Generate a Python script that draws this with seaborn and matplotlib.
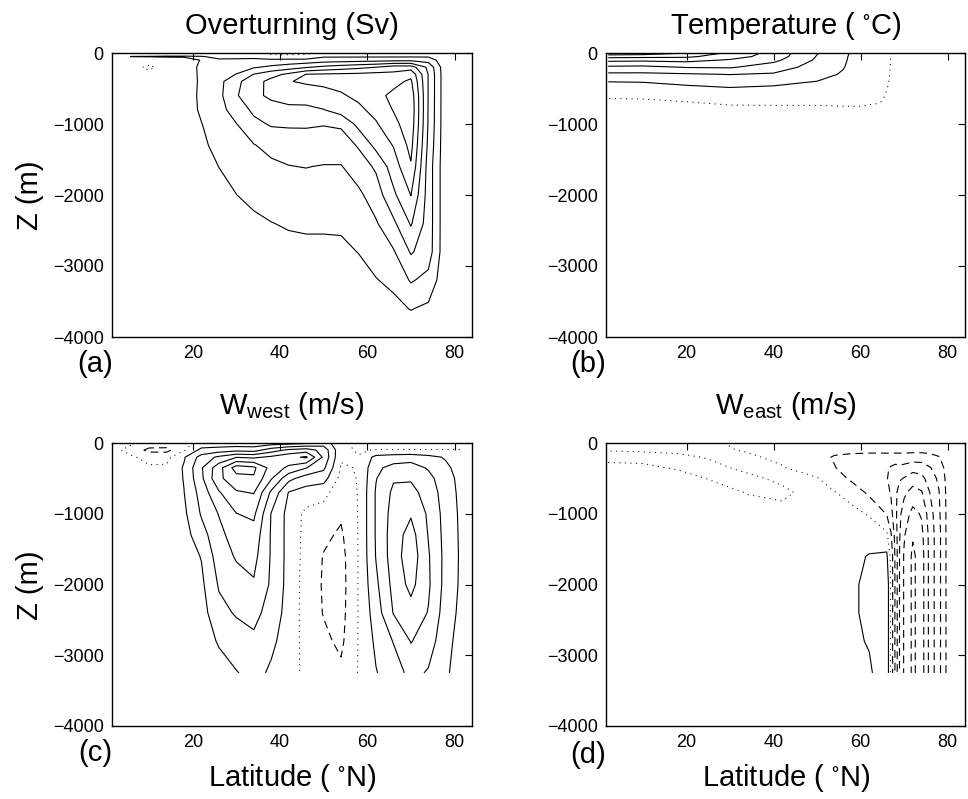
import numpy as np
import matplotlib
matplotlib.use("Agg")
import matplotlib.pyplot as plt
import seaborn as sns

# ---- (a) overturning streamfunction, one profile per latitude ----
lat_a = [2, 6, 10, 14, 18, 22, 26, 30, 34, 38, 42, 46, 50, 54, 58, 62, 66, 70, 74, 78, 82]
depth_a = [0, -50, -100, -200, -300, -400, -600, -800, -1000, -1300, -1600,
           -2000, -2400, -2800, -3200, -3600, -4000]
psi_a = [
    [0.5, 1.2, 0.6, 0.5, 0.5, 0.5, 0.5, 0.5, 0.5, 0.5, 0.5, 0.5, 0.5, 0.5, 0.5, 0.5, 0.5],
    [0.5, 2.05, 0.7, 0.5, 0.5, 0.5, 0.5, 0.5, 0.5, 0.5, 0.5, 0.5, 0.5, 0.5, 0.5, 0.5, 0.5],
    [0.5, 2.1, 0.8, -0.3, 0.4, 0.5, 0.5, 0.5, 0.5, 0.5, 0.5, 0.5, 0.5, 0.5, 0.5, 0.5, 0.5],
    [0.5, 2.2, 1.0, 0.6, 0.6, 0.55, 0.5, 0.5, 0.5, 0.5, 0.5, 0.5, 0.5, 0.5, 0.5, 0.5, 0.5],
    [0.5, 2.2, 1.2, 1.2, 1.1, 1.0, 0.95, 0.95, 0.85, 0.8, 0.7, 0.6, 0.5, 0.5, 0.5, 0.5, 0.5],
    [0.5, 2.1, 2.1, 2.3, 2.3, 2.3, 2.4, 2.3, 1.95, 1.6, 1.2, 0.9, 0.7, 0.6, 0.5, 0.5, 0.5],
    [0.5, 1.6, 2.2, 2.8, 3.1, 3.4, 3.5, 3.3, 3.0, 2.6, 2.02, 1.4, 1.0, 0.8, 0.7, 0.6, 0.5],
    [0.5, 1.5, 2.3, 3.2, 4.05, 5.5, 5.8, 4.9, 3.95, 3.2, 2.6, 1.98, 1.3, 0.9, 0.7, 0.6, 0.5],
    [0.5, 1.5, 2.4, 3.8, 6.05, 7.2, 7.5, 6.4, 5.5, 3.9, 3.3, 2.5, 1.6, 1.1, 0.8, 0.6, 0.5],
    [-0.3, 0.3, 2.5, 4.4, 7.3, 8.6, 8.4, 7.2, 6.2, 4.6, 3.6, 2.9, 1.95, 1.3, 0.9, 0.6, 0.5],
    [-0.3, 0.3, 2.6, 5.0, 8.4, 9.9, 8.7, 7.6, 6.3, 4.7, 3.95, 3.2, 2.2, 1.4, 0.9, 0.6, 0.5],
    [-0.3, 0.4, 2.6, 5.8, 10.05, 10.3, 8.8, 7.6, 6.3, 4.8, 4.05, 3.1, 2.3, 1.5, 1.0, 0.7, 0.5],
    [0.5, 1.8, 3.0, 6.5, 10.2, 10.5, 9.2, 7.95, 6.1, 5.0, 3.9, 3.2, 2.3, 1.5, 1.0, 0.7, 0.5],
    [0.5, 1.8, 3.1, 7.0, 10.3, 10.6, 9.8, 8.9, 6.3, 5.0, 3.9, 3.2, 2.3, 1.6, 1.0, 0.7, 0.5],
    [0.5, 1.8, 3.2, 7.5, 10.4, 10.8, 10.4, 9.6, 8.6, 6.2, 5.0, 3.6, 2.8, 2.05, 1.3, 0.8, 0.5],
    [0.5, 1.8, 3.3, 8.0, 10.6, 11.2, 11.5, 10.6, 9.8, 8.6, 6.3, 5.0, 3.8, 2.9, 1.9, 1.0, 0.5],
    [0.5, 1.8, 3.4, 9.0, 10.5, 11.5, 12.4, 12.1, 11.4, 10.1, 9.0, 7.6, 5.6, 3.8, 2.5, 1.4, 0.5],
    [0.5, 1.8, 3.5, 9.0, 11.5, 12.3, 13.2, 13.4, 13.2, 12.6, 11.8, 10.05, 8.2, 6.2, 4.2, 2.1, 0.5],
    [0.5, 1.8, 3.2, 5.5, 5.9, 5.9, 5.9, 5.85, 5.8, 5.5, 5.1, 5.1, 5.1, 5.0, 3.4, 1.6, 0.5],
    [0.5] * 17,
    [0.5] * 17,
]

# ---- (b) temperature ----
lat_b = [2, 10, 20, 30, 40, 50, 56, 60, 64, 68, 76, 84]
depth_b = [0, -50, -100, -200, -300, -400, -500, -600, -700, -800, -1000, -4000]
temp_b = [
    [13.5, 10.7, 8.5, 5.6, 3.6, 2.05, 1.2, 0.35, -0.5, -0.5, -0.5, -0.5],
    [13.2, 10.6, 8.4, 5.5, 3.6, 2.1, 1.3, 0.45, -0.5, -0.5, -0.5, -0.5],
    [12.05, 10.4, 8.6, 6.1, 3.8, 2.6, 1.5, 0.7, -0.1, -0.5, -0.5, -0.5],
    [9.6, 8.9, 7.8, 6.2, 4.05, 2.9, 1.85, 1.0, 0.25, -0.5, -0.5, -0.5],
    [7.3, 7.1, 6.5, 5.0, 3.8, 2.5, 1.7, 1.0, 0.3, -0.5, -0.5, -0.5],
    [4.1, 3.9, 3.7, 3.2, 2.7, 1.98, 1.5, 0.9, 0.3, -0.5, -0.5, -0.5],
    [2.4, 2.3, 2.25, 2.1, 1.8, 1.5, 1.2, 0.8, 0.3, -0.3, -0.5, -0.5],
    [1.26, 1.2, 1.15, 1.0, 0.9, 0.8, 0.7, 0.5, 0.2, -0.2, -0.5, -0.5],
    [0.8, 0.78, 0.75, 0.7, 0.6, 0.5, 0.35, 0.2, 0.05, -0.4, -0.5, -0.5],
    [-0.3, -0.3, -0.3, -0.3, -0.3, -0.3, -0.3, -0.3, -0.3, -0.3, -0.5, -0.5],
    [-0.5] * 12,
    [-0.5] * 12,
]

# ---- (c) vertical velocity, western boundary (data stops at -3250 m) ----
lat_c = [2, 6, 10, 14, 18, 22, 26, 30, 34, 38, 42, 46, 50, 54, 58, 62, 66, 70, 74, 78, 82]
depth_c = [0, -100, -200, -350, -500, -700, -1000, -1300, -1600, -2000, -2400, -2800, -3250]
w_west = [
    [0.2] * 13,
    [0.1, -0.3, 0.1, 0.2, 0.2, 0.2, 0.2, 0.2, 0.2, 0.2, 0.2, 0.2, 0.2],
    [-0.3, -1.3, -0.25, 0.1, 0.2, 0.2, 0.2, 0.2, 0.2, 0.2, 0.2, 0.2, 0.2],
    [-0.4, -1.3, -0.3, 0.15, 0.3, 0.3, 0.3, 0.25, 0.25, 0.25, 0.25, 0.25, 0.25],
    [-0.3, -0.1, 0.9, 1.1, 1.05, 0.98, 0.8, 0.6, 0.5, 0.4, 0.35, 0.3, 0.3],
    [0.3, 1.3, 2.4, 2.9, 2.8, 2.4, 2.1, 1.6, 1.05, 0.8, 0.6, 0.5, 0.4],
    [0.3, 1.5, 3.2, 4.6, 4.8, 3.9, 3.05, 2.7, 2.5, 2.1, 1.7, 1.1, 0.6],
    [0.3, 1.7, 3.95, 6.5, 5.6, 4.9, 3.98, 3.5, 3.1, 2.6, 2.1, 1.5, 0.95],
    [0.3, 1.6, 3.8, 6.2, 5.9, 5.05, 4.2, 3.6, 3.3, 2.9, 2.3, 1.8, 1.3],
    [0.5, 2.5, 4.2, 4.6, 4.1, 2.8, 1.95, 1.9, 1.9, 1.85, 1.6, 1.2, 0.85],
    [0.6, 3.2, 4.7, 3.8, 2.3, 0.95, 0.67, 0.67, 0.67, 0.65, 0.6, 0.55, 0.5],
    [0.8, 3.5, 5.15, 3.05, 1.5, 0.6, -0.25, -0.3, -0.35, -0.4, -0.4, -0.35, -0.3],
    [1.5, 2.6, 2.8, 2.2, 1.4, 0.3, -0.4, -0.8, -1.05, -1.1, -1.05, -0.8, -0.5],
    [0.3, 0.25, 0.1, -0.1, -0.3, -0.6, -0.85, -1.15, -1.35, -1.4, -1.35, -1.2, -0.8],
    [-0.4, -0.1, 0.05, 0.05, 0.05, 0.05, 0.05, 0.05, 0.05, 0.05, 0.05, 0.05, 0.05],
    [-0.5, 0.05, 1.3, 1.8, 1.95, 2.1, 2.1, 2.1, 2.05, 1.8, 1.5, 1.2, 0.95],
    [-0.5, 0.05, 1.5, 2.3, 2.9, 3.2, 3.4, 3.5, 3.5, 3.3, 3.05, 2.05, 1.5],
    [-0.5, 0.05, 1.6, 2.4, 2.9, 3.3, 3.9, 4.4, 4.6, 4.3, 3.6, 3.05, 2.3],
    [-0.5, 0.05, 1.3, 1.9, 2.3, 2.6, 2.85, 2.95, 3.1, 3.15, 2.95, 2.5, 1.9],
    [-0.5, 0.05, 0.9, 1.2, 1.4, 1.5, 1.6, 1.65, 1.68, 1.65, 1.5, 1.3, 1.13],
    [-0.5, 0.05, 0.4, 0.5, 0.6, 0.65, 0.7, 0.72, 0.74, 0.72, 0.65, 0.55, 0.5],
]

# ---- (d) vertical velocity, eastern boundary ----
lat_d = [2, 10, 18, 26, 34, 42, 50, 54, 58, 62, 66, 67, 68, 69, 70, 72, 74, 76, 78, 80, 82]
w_east = [
    [0.3, 0.02, -0.15, 0.15, 0.2, 0.2, 0.2, 0.2, 0.2, 0.2, 0.2, 0.2, 0.2],
    [0.3, 0.05, -0.15, 0.1, 0.2, 0.2, 0.2, 0.2, 0.2, 0.2, 0.2, 0.2, 0.2],
    [0.25, 0.1, -0.1, -0.05, 0.2, 0.2, 0.2, 0.2, 0.2, 0.2, 0.2, 0.2, 0.2],
    [0.1, 0.1, 0.05, -0.1, -0.05, 0.2, 0.2, 0.2, 0.2, 0.2, 0.2, 0.2, 0.2],
    [-0.2, -0.05, 0.1, 0.1, -0.1, -0.02, 0.2, 0.2, 0.2, 0.2, 0.2, 0.2, 0.2],
    [-0.4, -0.3, -0.15, 0.05, 0.1, -0.1, 0.15, 0.2, 0.2, 0.2, 0.2, 0.2, 0.2],
    [-0.6, -0.7, -0.6, -0.4, 0.05, 0.2, 0.2, 0.25, 0.3, 0.3, 0.3, 0.3, 0.3],
    [-0.6, -0.7, -1.1, -0.95, -0.5, 0.05, 0.2, 0.3, 0.4, 0.4, 0.4, 0.4, 0.4],
    [-0.6, -0.7, -1.3, -1.5, -1.2, -0.4, 0.3, 0.6, 0.8, 0.8, 0.8, 0.75, 0.7],
    [-0.6, -0.7, -1.4, -1.9, -1.8, -1.2, -0.1, 0.6, 1.05, 1.3, 1.3, 1.1, 0.8],
    [-0.6, -0.7, -1.4, -1.9, -1.95, -1.7, -1.05, 0.2, 1.2, 1.9, 1.9, 1.9, 1.9],
    [-0.6, -0.7, -1.4, -2.1, -2.2, -2.1, -1.7, -0.9, -0.3, -0.3, -0.3, -0.3, -0.3],
    [-0.6, -0.7, -1.4, -2.3, -2.6, -2.8, -2.7, -2.4, -2.2, -2.2, -2.2, -2.2, -2.2],
    [-0.6, -0.7, -1.4, -2.2, -2.9, -3.4, -3.8, -3.95, -4.1, -4.1, -4.1, -4.1, -4.1],
    [-0.6, -0.7, -1.4, -2.3, -3.05, -3.8, -4.5, -4.9, -5.1, -5.1, -5.1, -5.1, -5.1],
    [-0.6, -0.7, -1.5, -2.6, -3.5, -4.4, -5.3, -5.9, -6.2, -6.2, -6.2, -6.2, -6.2],
    [-0.6, -0.7, -1.5, -2.5, -3.3, -4.1, -4.9, -5.3, -5.5, -5.5, -5.5, -5.5, -5.5],
    [-0.5, -0.7, -1.3, -2.05, -2.5, -2.95, -3.4, -3.6, -3.6, -3.6, -3.6, -3.6, -3.6],
    [-0.4, -0.6, -1.05, -1.5, -1.8, -2.05, -2.2, -2.3, -2.3, -2.3, -2.3, -2.3, -2.3],
    [-0.3, -0.4, -0.5, -0.6, -0.65, -0.7, -0.7, -0.7, -0.7, -0.7, -0.7, -0.7, -0.7],
    [-0.1] * 13,
]

DASHED = (0, (5.6, 3.6))
DOTTED = (0, (0.8, 3.2))
W = 968
H = 799


def draw_panel(ax, lat, depth, profiles, neg_levels, pos_levels):
    field = np.array(profiles).T
    if neg_levels:
        ax.contour(lat, depth, field, levels=neg_levels, colors='k',
                   linewidths=0.8, linestyles=[DASHED])
    ax.contour(lat, depth, field, levels=[0], colors='k',
               linewidths=0.7, linestyles=[DOTTED])
    ax.contour(lat, depth, field, levels=pos_levels, colors='k',
               linewidths=0.8, linestyles='solid')
    ax.set_xlim(1.5, 84)
    ax.set_ylim(-4000, 0)
    ax.set_xticks([20, 40, 60, 80])
    ax.set_yticks([-4000, -3000, -2000, -1000, 0])
    ax.tick_params(direction='in', top=True, right=True, length=5,
                   width=0.8, labelsize=13, pad=6, colors='k')
    for s in ax.spines.values():
        s.set_linewidth(1.0)
        s.set_color('k')


sns.set_style("white")
plt.rcParams['font.family'] = ['Liberation Sans', 'DejaVu Sans']
plt.rcParams['mathtext.fontset'] = 'custom'
plt.rcParams['mathtext.rm'] = 'Liberation Sans'
plt.rcParams['lines.scale_dashes'] = False
plt.rcParams['text.color'] = 'k'
plt.rcParams['axes.labelcolor'] = 'k'
plt.rcParams['xtick.color'] = 'k'
plt.rcParams['ytick.color'] = 'k'

fig = plt.figure(figsize=(W / 100, H / 100), dpi=100)


def add_axes_px(x0, y0, x1, y1):
    return fig.add_axes([x0 / W, 1 - y1 / H, (x1 - x0) / W, (y1 - y0) / H])


ax_a = add_axes_px(112, 53, 472, 337)
ax_b = add_axes_px(606, 53, 965, 337)
ax_c = add_axes_px(112, 443, 472, 726)
ax_d = add_axes_px(606, 443, 965, 726)

draw_panel(ax_a, lat_a, depth_a, psi_a, None, [2, 4, 6, 8, 10, 12])
draw_panel(ax_b, lat_b, depth_b, temp_b, None, [2, 4, 6, 8, 10, 12])
draw_panel(ax_c, lat_c, depth_c, w_west, [-1], [1, 2, 3, 4, 5, 6])
draw_panel(ax_d, lat_d, depth_c, w_east, [-6, -5, -4, -3, -2, -1], [1])

big = 21


def ftext(x, y, s, **kw):
    fig.text(x / W, 1 - y / H, s, fontsize=big, color='k', **kw)


ftext(292, 34, 'Overturning (Sv)', ha='center', va='baseline')
ftext(786, 34, r'Temperature ( $\mathregular{^{\circ}}$C)', ha='center', va='baseline')
ftext(292, 414, r'$\mathregular{W_{west}}$ (m/s)', ha='center', va='baseline')
ftext(786, 414, r'$\mathregular{W_{east}}$ (m/s)', ha='center', va='baseline')

ftext(30, 195, 'Z (m)', ha='center', va='center', rotation=90)
ftext(30, 585, 'Z (m)', ha='center', va='center', rotation=90)
ftext(292, 778, r'Latitude ( $\mathregular{^{\circ}}$N)', ha='center', va='center')
ftext(786, 778, r'Latitude ( $\mathregular{^{\circ}}$N)', ha='center', va='center')

ftext(95, 364, '(a)', ha='center', va='center')
ftext(588, 364, '(b)', ha='center', va='center')
ftext(95, 753, '(c)', ha='center', va='center')
ftext(588, 755, '(d)', ha='center', va='center')

fig.savefig('out.png', dpi=100, facecolor='white')
